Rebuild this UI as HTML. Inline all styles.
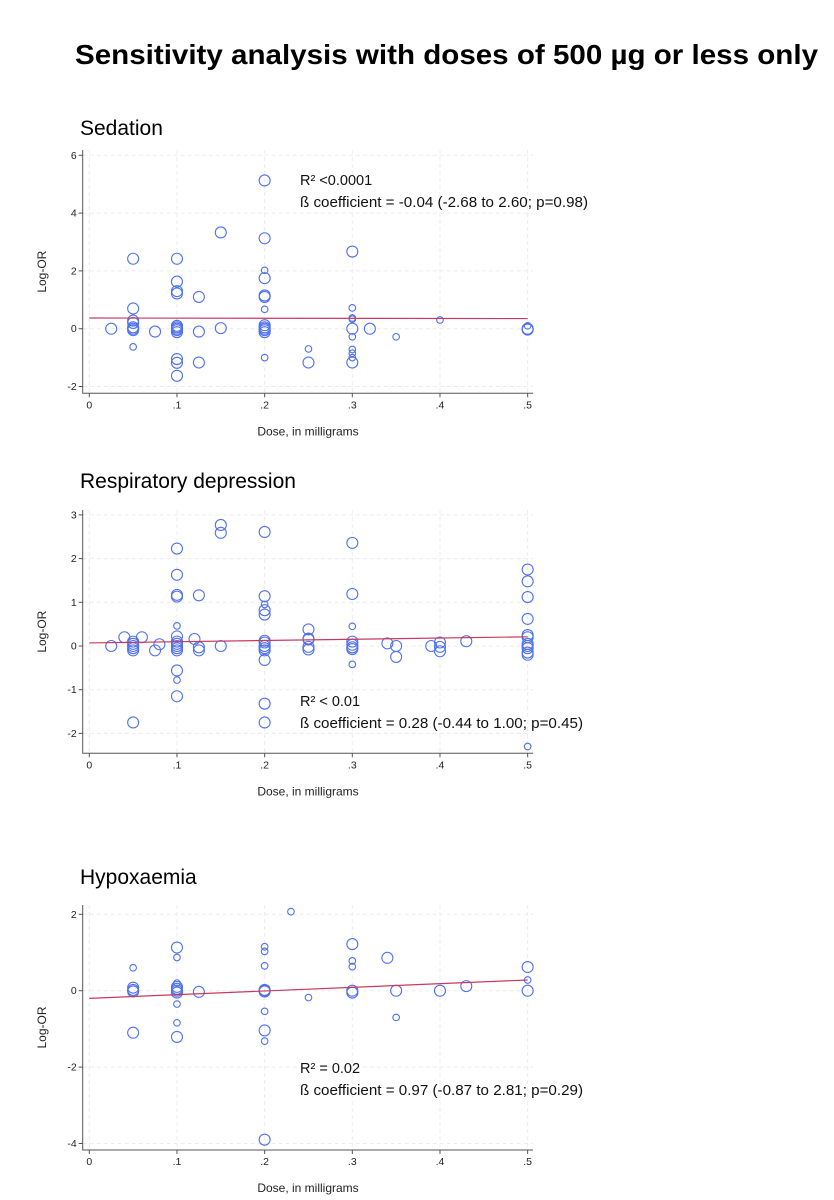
<!DOCTYPE html>
<html><head><meta charset="utf-8"><style>
body{margin:0;background:#fff;width:834px;height:1200px;overflow:hidden;font-family:"Liberation Sans",sans-serif}
svg{position:absolute;left:0;top:0}
</style></head><body>
<svg id="s" width="834" height="1200">
<text x="75" y="64" font-size="28" font-weight="bold" fill="#000" textLength="743" lengthAdjust="spacingAndGlyphs">Sensitivity analysis with doses of 500 µg or less only</text>
</svg>
<script>
// Sedation
const sedDose=[0.025,0.05,0.05,0.05,0.05,0.05,0.05,0.05,0.05,0.075,0.1,0.1,0.1,0.1,0.1,0.1,0.1,0.1,0.1,0.1,0.1,0.1,0.125,0.125,0.125,0.15,0.15,0.2,0.2,0.2,0.2,0.2,0.2,0.2,0.2,0.2,0.2,0.2,0.2,0.2,0.25,0.25,0.3,0.3,0.3,0.3,0.3,0.3,0.3,0.3,0.3,0.3,0.32,0.35,0.4,0.5,0.5,0.5];
const sedLogOR=[0,2.42,0.7,0.28,0.2,0.05,0,-0.05,-0.63,-0.1,2.42,1.63,1.3,1.22,0.1,0.05,0,-0.05,-0.12,-1.05,-1.18,-1.63,1.1,-0.1,-1.17,3.33,0.02,5.13,3.13,2.02,1.75,1.15,1.1,0.67,0.12,0.05,0,-0.05,-0.12,-1.0,-0.7,-1.17,2.67,0.72,0.37,0.33,0,-0.28,-0.72,-0.85,-1.0,-1.17,0,-0.28,0.3,0.1,0,-0.03];
const sedSize=[1,1,1,1,1,1,1,1,0,1,1,1,1,1,1,1,1,1,1,1,1,1,1,1,1,1,1,1,1,0,1,1,1,0,1,1,1,1,1,0,0,1,1,0,0,0,1,0,0,0,0,1,1,0,0,0,1,1];
const sedFit=[0.37,0.35];
const sedYTicks=[-2,0,2,4,6];
// Respiratory depression
const resDose=[0.025,0.04,0.05,0.05,0.05,0.05,0.05,0.05,0.06,0.075,0.08,0.1,0.1,0.1,0.1,0.1,0.1,0.1,0.1,0.1,0.1,0.1,0.1,0.1,0.1,0.12,0.125,0.125,0.125,0.15,0.15,0.15,0.2,0.2,0.2,0.2,0.2,0.2,0.2,0.2,0.2,0.2,0.2,0.2,0.2,0.25,0.25,0.25,0.25,0.25,0.3,0.3,0.3,0.3,0.3,0.3,0.3,0.3,0.34,0.35,0.35,0.39,0.4,0.4,0.4,0.43,0.5,0.5,0.5,0.5,0.5,0.5,0.5,0.5,0.5,0.5,0.5,0.5];
const resLogOR=[0,0.2,0.1,0.05,0,-0.05,-0.1,-1.75,0.2,-0.1,0.04,2.23,1.63,1.17,1.13,0.46,0.22,0.1,0.05,0,-0.05,-0.1,-0.56,-0.78,-1.15,0.16,1.16,-0.03,-0.1,2.77,2.59,0,2.61,1.14,0.95,0.82,0.72,0.12,0.08,0,-0.05,-0.1,-0.32,-1.32,-1.75,0.38,0.17,0.15,-0.02,-0.08,2.36,1.19,0.45,0.1,0.03,-0.03,-0.07,-0.42,0.06,0,-0.25,0,0.08,-0.02,-0.12,0.11,1.75,1.48,1.12,0.62,0.25,0.2,0.05,0,-0.05,-0.15,-0.2,-2.3];
const resSize=[1,1,1,1,1,1,1,1,1,1,1,1,1,1,1,0,1,1,1,1,1,1,1,0,1,1,1,1,1,1,1,1,1,1,0,1,1,1,1,1,1,1,1,1,1,1,1,1,1,1,1,1,0,1,1,1,1,0,1,1,1,1,1,1,1,1,1,1,1,1,1,1,1,1,1,1,1,0];
const resFit=[0.07,0.21];
const resYTicks=[-2,-1,0,1,2,3];
// Hypoxaemia
const hypDose=[0.05,0.05,0.05,0.05,0.05,0.1,0.1,0.1,0.1,0.1,0.1,0.1,0.1,0.1,0.1,0.125,0.2,0.2,0.2,0.2,0.2,0.2,0.2,0.2,0.2,0.2,0.23,0.25,0.3,0.3,0.3,0.3,0.3,0.34,0.35,0.35,0.4,0.43,0.5,0.5,0.5];
const hypLogOR=[0.6,0.08,0.02,-0.02,-1.1,1.13,0.87,0.2,0.1,0.05,0,-0.05,-0.35,-0.84,-1.21,-0.03,1.15,1.03,0.65,0.02,0,-0.02,-0.54,-1.04,-1.32,-3.9,2.07,-0.18,1.22,0.78,0.63,0,-0.05,0.86,0,-0.7,0,0.12,0.62,0.28,0];
const hypSize=[0,1,1,1,1,1,0,0,1,1,1,1,0,0,1,1,0,0,0,1,1,1,0,1,0,1,0,0,1,0,0,1,1,1,1,0,1,1,1,0,1];
const hypFit=[-0.2,0.28];
const hypYTicks=[-4,-2,0,2];
const xTicks=[0,0.1,0.2,0.3,0.4,0.5];
const xTickLabels=["0",".1",".2",".3",".4",".5"];

const NS="http://www.w3.org/2000/svg";
const svg=document.getElementById('s');
function mk(tag,attrs,parent){const e=document.createElementNS(NS,tag);for(const k in attrs)e.setAttribute(k,attrs[k]);(parent||svg).appendChild(e);return e;}

function panel(cfg){
  const g=mk('g',{});
  
  
  const x0=89.3,xs=876.7;
  const X=d=>x0+d*xs;
  const Y=v=>cfg.y0-v*cfg.yu;
  const left=82.7,right=533,top=cfg.top,bot=cfg.bot;
  const t=mk('text',{x:80,y:cfg.titleY,'font-size':21,fill:'#000'},g);t.textContent=cfg.title;
  
  
  cfg.yTicks.forEach(v=>{const l=mk('line',{x1:left,x2:right,y1:Y(v),y2:Y(v),stroke:'#ececec','stroke-dasharray':'4,3'},g);
    });
  xTicks.forEach(d=>{const l=mk('line',{x1:X(d),x2:X(d),y1:top,y2:bot,stroke:'#ececec','stroke-dasharray':'4,3'},g);
    });
  const ax=mk('path',{d:`M${left},${top} V${bot} H${right}`,fill:'none',stroke:'#555','stroke-width':1},g);
  
  cfg.yTicks.forEach(v=>{mk('line',{x1:left-4,x2:left,y1:Y(v),y2:Y(v),stroke:'#555'},g);
    const tl=mk('text',{x:left-6,y:Y(v)+3.5,'font-size':10.5,'text-anchor':'end',fill:'#222'},g);tl.textContent=v;
    });
  xTicks.forEach((d,i)=>{mk('line',{x1:X(d),x2:X(d),y1:bot,y2:bot+4,stroke:'#555'},g);
    const tl=mk('text',{x:X(d),y:bot+15,'font-size':10.5,'text-anchor':'middle',fill:'#222'},g);tl.textContent=xTickLabels[i];
    });
  const xt=mk('text',{x:308,y:bot+42,'font-size':12,'text-anchor':'middle',fill:'#222'},g);xt.textContent='Dose, in milligrams';
  
  const cy=(top+bot)/2;
  const yt=mk('text',{x:46,y:cy,'font-size':12,'text-anchor':'middle',fill:'#222',transform:`rotate(-90 46 ${cy})`},g);yt.textContent='Log-OR';
  
  cfg.dose.forEach((d,i)=>{const c=mk('circle',{cx:X(d),cy:Y(cfg.lor[i]),r:cfg.size[i]?5.5:3.3,fill:'none',stroke:'#4f72ee','stroke-width':1.1},g);
    });
  const fl=mk('line',{x1:X(0),x2:X(0.5),y1:Y(cfg.fit[0]),y2:Y(cfg.fit[1]),stroke:'#c83a5c','stroke-width':1.2},g);
  
  const a1=mk('text',{x:300,y:cfg.annY,'font-size':14.5,fill:'#111'},g);a1.textContent=cfg.r2;
  
  const a2=mk('text',{x:300,y:cfg.annY+22,'font-size':14.5,fill:'#111',textLength:cfg.bw,lengthAdjust:'spacingAndGlyphs'},g);a2.textContent=cfg.beta;
  
}
panel({name:'sedation',title:'Sedation',titleY:135,dose:sedDose,lor:sedLogOR,size:sedSize,fit:sedFit,yTicks:sedYTicks,
  y0:328.7,yu:28.9,top:150,bot:393.3,annY:185,bw:288,r2:'R² <0.0001',beta:'ß coefficient = -0.04 (-2.68 to 2.60; p=0.98)'});
panel({name:'respiratory-depression',title:'Respiratory depression',titleY:488,dose:resDose,lor:resLogOR,size:resSize,fit:resFit,yTicks:resYTicks,
  y0:646,yu:43.7,top:510,bot:753.3,annY:706,bw:283,r2:'R² < 0.01',beta:'ß coefficient = 0.28 (-0.44 to 1.00; p=0.45)'});
panel({name:'hypoxaemia',title:'Hypoxaemia',titleY:884,dose:hypDose,lor:hypLogOR,size:hypSize,fit:hypFit,yTicks:hypYTicks,
  y0:990.7,yu:38.2,top:905,bot:1150,annY:1073,bw:283,r2:'R² = 0.02',beta:'ß coefficient = 0.97 (-0.87 to 2.81; p=0.29)'});
</script>
</body></html>
